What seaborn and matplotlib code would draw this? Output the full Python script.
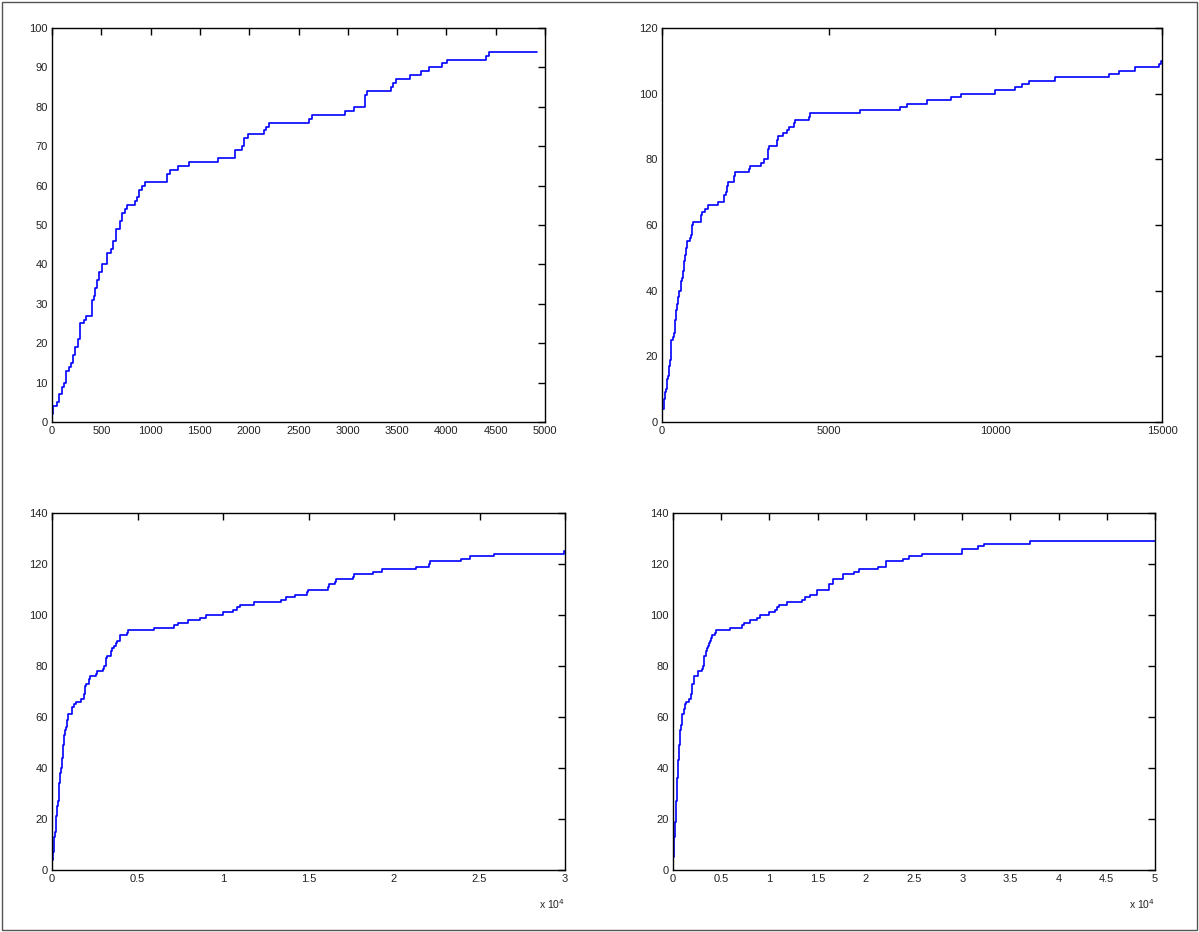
import numpy as np
import pandas as pd
import matplotlib
matplotlib.use("Agg")
import matplotlib.pyplot as plt
from matplotlib.patches import Rectangle
import seaborn as sns

# cumulative step curve: event positions and resulting counts
event_x = [0, 5, 12, 50, 69, 100, 119, 146, 177, 196, 211, 230, 261, 280, 326, 349,
           403, 426, 434, 453, 472, 510, 560, 595, 618, 645, 691, 710, 741, 760, 844,
           867, 886, 913, 940, 1170, 1193, 1278, 1393, 1681, 1853, 1930, 1949, 1988,
           2149, 2168, 2199, 2602, 2640, 2974, 3062, 3177, 3196, 3438, 3457, 3484,
           3630, 3745, 3822, 3956, 4002, 4397, 4436, 5940, 7150, 7350, 7950, 8670,
           8980, 9980, 10600, 10800, 11020, 11800, 13420, 13700, 14200, 14920, 14960,
           16150, 16200, 16550, 16600, 17600, 17650, 18800, 19300, 21300, 22050, 22100,
           23900, 24450, 25850, 29950, 30000, 31600, 32300, 37000]
event_y = [0, 2, 4, 5, 7, 9, 10, 13, 14, 15, 17, 19, 21, 25, 26, 27,
           31, 32, 34, 36, 38, 40, 43, 44, 46, 49, 51, 53, 54, 55, 56,
           57, 59, 60, 61, 63, 64, 65, 66, 67, 69, 70, 72, 73,
           74, 75, 76, 77, 78, 79, 80, 83, 84, 85, 86, 87,
           88, 89, 90, 91, 92, 93, 94, 95, 96, 97, 98, 99,
           100, 101, 102, 103, 104, 105, 106, 107, 108, 109, 110,
           111, 112, 113, 114, 115, 116, 117, 118, 119, 120, 121,
           122, 123, 124, 125, 126, 127, 128, 129]

# per-panel run lengths and axis settings
run_end = [4920, 15000, 30000, 50000]
x_max = [5000, 15000, 30000, 50000]
y_max = [100, 120, 140, 140]
x_step = [500, 5000, 5000, 5000]
y_step = [10, 20, 20, 20]
x_scale = [1, 1, 1e4, 1e4]

sns.set_style("white")
plt.rcParams['font.family'] = ['Liberation Sans', 'DejaVu Sans']
plt.rcParams['font.size'] = 8

fig = plt.figure(figsize=(11.99, 9.32), dpi=100)
positions = [
    [52/1199, 1 - 422/932, (545-52)/1199, (422-28)/932],
    [662/1199, 1 - 422/932, (1162-662)/1199, (422-28)/932],
    [52/1199, 1 - 870/932, (565-52)/1199, (870-513)/932],
    [673/1199, 1 - 870/932, (1155-673)/1199, (870-513)/932],
]

for i in range(4):
    ax = fig.add_axes(positions[i])
    xs = [x for x in event_x if x < run_end[i]] + [run_end[i]]
    ys = [y for x, y in zip(event_x, event_y) if x < run_end[i]]
    ys = ys + [ys[-1]]
    df = pd.DataFrame({"x": xs, "y": ys})
    sns.lineplot(data=df, x="x", y="y", ax=ax, drawstyle="steps-post",
                 color="#0000ff", linewidth=1.2, estimator=None, sort=True)
    ax.set_xlim(0, x_max[i])
    ax.set_ylim(0, y_max[i])
    xt = np.arange(0, x_max[i] + 1, x_step[i])
    ax.set_xticks(xt)
    if x_scale[i] == 1:
        ax.set_xticklabels([f"{int(v)}" for v in xt])
    else:
        ax.set_xticklabels([f"{v / x_scale[i]:g}" for v in xt])
        ax.text(1.0, -0.095, r"x 10$^{4}$", transform=ax.transAxes,
                ha="right", va="center", fontsize=7.5, color="#222222")
    yt = np.arange(0, y_max[i] + 1, y_step[i])
    ax.set_yticks(yt)
    ax.set_yticklabels([f"{int(v)}" for v in yt])
    ax.set_xlabel("")
    ax.set_ylabel("")
    ax.tick_params(direction="in", length=5, width=1, top=True, right=True,
                   labelsize=8, colors="#000000", labelcolor="#222222", pad=3)
    for s in ax.spines.values():
        s.set_visible(True)
        s.set_color("#000000")
        s.set_linewidth(1)

fig.patches.append(Rectangle((2/1199, 2/932), 1195/1199, 928/932,
                             transform=fig.transFigure, fill=False,
                             edgecolor="#555555", linewidth=1))

fig.savefig("out.png", dpi=100, facecolor="white")
